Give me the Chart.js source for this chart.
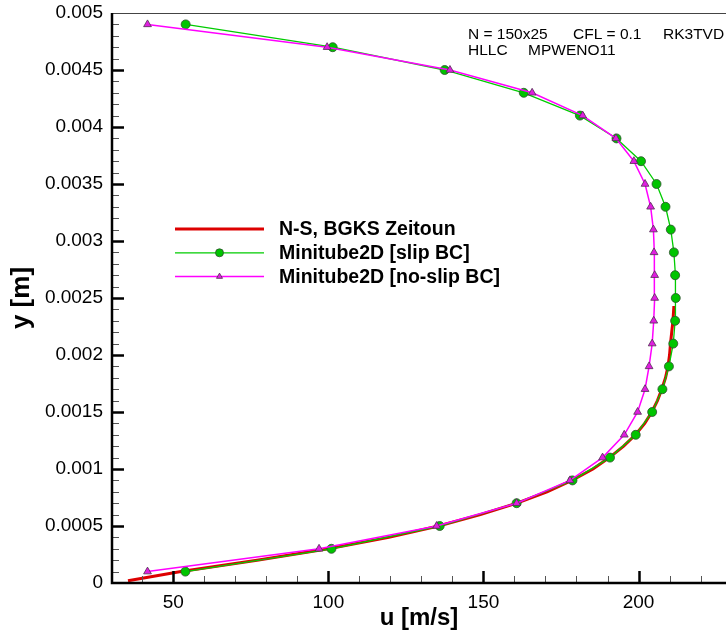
<!DOCTYPE html>
<html>
<head>
<meta charset="utf-8">
<title>Velocity profile</title>
<script src="https://cdn.jsdelivr.net/npm/chart.js@4.4.1/dist/chart.umd.min.js"></script>
<style>
  html, body { margin: 0; padding: 0; background: #fff; }
  #wrap { width: 726px; height: 636px; }
</style>
</head>
<body>
<div id="wrap"><canvas id="profile"></canvas></div>
<script>
// cell-centre heights shared by both Minitube2D runs (25 cells)
const yCells = [0.0001, 0.0003, 0.0005, 0.0007, 0.0009, 0.0011, 0.0013, 0.0015, 0.0017,
  0.0019, 0.0021, 0.0023, 0.0025, 0.0027, 0.0029, 0.0031, 0.0033, 0.0035, 0.0037,
  0.0039, 0.0041, 0.0043, 0.0045, 0.0047, 0.0049];
const uSlip = [53.9, 101.0, 135.9, 160.7, 178.7, 190.8, 199.1, 204.4, 207.7,
  209.8, 211.2, 211.8, 212.0, 211.8, 211.4, 210.4, 208.7, 205.8, 200.8,
  192.9, 181.1, 163.0, 137.5, 101.4, 54.0];
const uNoSlip = [41.7, 97.0, 134.9, 160.7, 177.9, 188.4, 195.4, 199.7, 202.1,
  203.4, 204.4, 204.9, 205.2, 205.2, 205.0, 204.8, 203.9, 202.1, 198.5,
  192.7, 182.0, 165.7, 139.2, 99.6, 41.7];

// reference Navier-Stokes solution (lower half of the channel)
const yRef = [0.00002, 0.0001, 0.0002, 0.0003, 0.0004, 0.0005, 0.0006, 0.0007, 0.0008,
  0.0009, 0.001, 0.0011, 0.0012, 0.0013, 0.0014, 0.0015, 0.0016, 0.0017, 0.0018,
  0.0019, 0.002, 0.0021, 0.0022, 0.0023, 0.00243];
const uRef = [35.4, 52.5, 77.0, 100.0, 119.5, 135.5, 149.0, 160.8, 170.5,
  178.5, 185.3, 190.6, 195.2, 199.0, 202.0, 204.3, 206.1, 207.5, 208.7,
  209.5, 210.0, 210.3, 210.7, 211.1, 211.4];

const seriesNames = ["N-S, BGKS Zeitoun", "Minitube2D [slip BC]", "Minitube2D [no-slip BC]"];
const uTicks = [50, 100, 150, 200];
const yTicks = [0, 0.0005, 0.001, 0.0015, 0.002, 0.0025, 0.003, 0.0035, 0.004, 0.0045, 0.005];
const runInfo = [["N = 150x25", "CFL = 0.1", "RK3TVD"], ["HLLC", "MPWENO11"]];

const FONT = "'Liberation Sans', Arial, Helvetica, sans-serif";
Chart.defaults.color = "#000";
Chart.defaults.font.family = FONT;

function pts(us, ys) {
  return us.map((u, i) => ({x: u, y: ys[i]}));
}

// inward major/minor ticks plus the frame
const axisFrame = {
  id: 'axisFrame',
  afterDatasetsDraw(chart) {
    const {ctx, chartArea: a, scales: {x, y}} = chart;
    ctx.save();
    ctx.lineCap = 'butt';
    for (let v = Math.ceil(x.min / 10) * 10; v <= x.max; v += 10) {
      const px = Math.round(x.getPixelForValue(v)) + 0.5;
      const major = v % 50 === 0;
      ctx.strokeStyle = major ? '#000' : '#555';
      ctx.lineWidth = major ? 2.5 : 1;
      ctx.beginPath();
      ctx.moveTo(px, a.bottom);
      ctx.lineTo(px, a.bottom - (major ? 12 : 7));
      ctx.stroke();
    }
    for (let i = 1; i < 50; i++) {
      const py = Math.round(y.getPixelForValue(i * 0.0001)) + 0.5;
      const major = i % 5 === 0;
      ctx.strokeStyle = major ? '#000' : '#555';
      ctx.lineWidth = major ? 2.5 : 1;
      ctx.beginPath();
      ctx.moveTo(a.left, py);
      ctx.lineTo(a.left + (major ? 12 : 7), py);
      ctx.stroke();
    }
    // top border is thin grey, left/bottom axes heavy black
    ctx.strokeStyle = '#444';
    ctx.lineWidth = 1;
    ctx.beginPath();
    ctx.moveTo(a.left, a.top + 0.5);
    ctx.lineTo(a.right, a.top + 0.5);
    ctx.stroke();
    ctx.strokeStyle = '#000';
    ctx.lineWidth = 2.5;
    ctx.beginPath();
    ctx.moveTo(a.left, a.top);
    ctx.lineTo(a.left, a.bottom);
    ctx.lineTo(a.right, a.bottom);
    ctx.stroke();
    ctx.restore();
  }
};

// legend inside the plot and the run settings text
const notes = {
  id: 'notes',
  afterDraw(chart) {
    const {ctx} = chart;
    ctx.save();
    chart.data.datasets.forEach((ds, i) => {
      const yy = 229 + i * 23.8;
      ctx.strokeStyle = ds.borderColor;
      ctx.lineWidth = ds.borderWidth;
      ctx.beginPath();
      ctx.moveTo(175, yy);
      ctx.lineTo(264, yy);
      ctx.stroke();
      if (ds.pointRadius > 0) {
        ctx.fillStyle = ds.pointBackgroundColor;
        ctx.strokeStyle = ds.pointBorderColor;
        ctx.lineWidth = ds.pointBorderWidth;
        Chart.helpers.drawPoint(ctx, {
          pointStyle: ds.pointStyle, radius: ds.legendRadius, rotation: 0,
          borderWidth: ds.pointBorderWidth
        }, 219.5, yy);
      }
      ctx.fillStyle = '#000';
      ctx.font = "bold 19.5px " + FONT;
      ctx.textBaseline = 'middle';
      ctx.textAlign = 'left';
      ctx.fillText(ds.label, 279, yy + 1);
    });

    ctx.font = "15.5px " + FONT;
    ctx.textBaseline = 'alphabetic';
    const cols = [[468, 573, 663], [468, 528]];
    runInfo.forEach((row, r) => {
      row.forEach((txt, c) => ctx.fillText(txt, cols[r][c], 38.5 + r * 16.7));
    });
    ctx.restore();
  }
};

new Chart(document.getElementById('profile'), {
  type: 'scatter',
  data: {
    datasets: [{
      label: seriesNames[0],
      data: pts(uRef, yRef),
      showLine: true,
      borderColor: '#dd0000',
      borderWidth: 3,
      pointRadius: 0,
      legendRadius: 0,
      order: 3
    }, {
      label: seriesNames[1],
      data: pts(uSlip, yCells),
      showLine: true,
      borderColor: '#00cc00',
      borderWidth: 1.3,
      pointStyle: 'circle',
      pointRadius: 4.5,
      legendRadius: 4,
      pointBackgroundColor: '#00c400',
      pointBorderColor: '#2f4f2f',
      pointBorderWidth: 0.8,
      order: 2
    }, {
      label: seriesNames[2],
      data: pts(uNoSlip, yCells),
      showLine: true,
      borderColor: '#ff00ff',
      borderWidth: 1.5,
      pointStyle: 'triangle',
      pointRadius: 4.5,
      legendRadius: 3.5,
      pointBackgroundColor: '#e01ee0',
      pointBorderColor: '#503050',
      pointBorderWidth: 0.8,
      order: 1
    }]
  },
  options: {
    responsive: true,
    maintainAspectRatio: false,
    animation: false,
    layout: {autoPadding: false, padding: {top: 13, right: 0, bottom: 0, left: 0}},
    plugins: {legend: {display: false}, tooltip: {enabled: false}},
    scales: {
      x: {
        type: 'linear',
        min: 30.25,
        max: 228.2,
        grid: {display: false, drawTicks: false},
        border: {display: false},
        ticks: {
          padding: 8,
          maxRotation: 0,
          autoSkip: false,
          font: {size: 19},
          color: '#000',
          callback: v => String(v)
        },
        afterBuildTicks(scale) {
          scale.ticks = uTicks.map(v => ({value: v}));
        },
        afterFit(scale) {
          scale.height = 53;
          scale.paddingLeft = 0;
          scale.paddingRight = 0;
        },
        title: {
          display: true,
          text: 'u [m/s]',
          font: {size: 24, weight: 'bold'},
          color: '#000',
          padding: {top: 0, bottom: 3}
        }
      },
      y: {
        type: 'linear',
        min: 0,
        max: 0.005,
        grid: {display: false, drawTicks: false},
        border: {display: false},
        ticks: {
          padding: 9,
          autoSkip: false,
          font: {size: 19},
          color: '#000',
          callback: v => Math.abs(v) < 1e-12 ? '0' : String(+v.toFixed(4))
        },
        afterBuildTicks(scale) {
          scale.ticks = yTicks.map(v => ({value: v}));
        },
        afterFit(scale) {
          scale.width = 112;
          scale.paddingTop = 0;
          scale.paddingBottom = 0;
        },
        title: {
          display: true,
          text: 'y [m]',
          font: {size: 26, weight: 'bold'},
          color: '#000',
          padding: {top: 6, bottom: 0}
        }
      }
    }
  },
  plugins: [axisFrame, notes]
});
</script>
</body>
</html>
